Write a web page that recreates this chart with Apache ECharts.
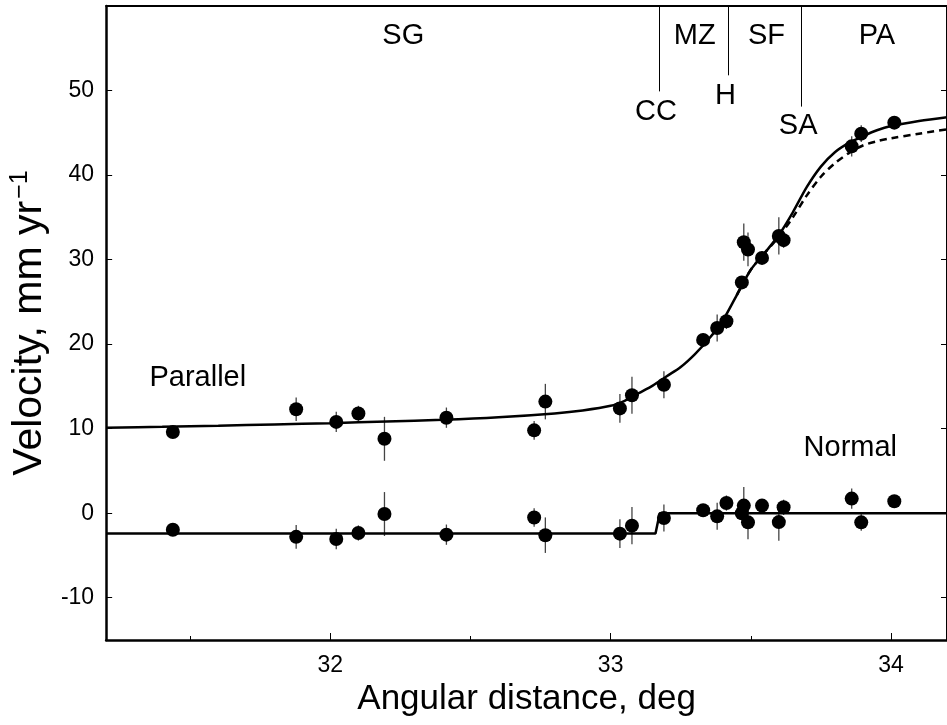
<!DOCTYPE html>
<html>
<head>
<meta charset="utf-8">
<script src="https://cdn.jsdelivr.net/npm/echarts@6/dist/echarts.min.js"></script>
<style>
  html, body { margin: 0; padding: 0; background: #fff; }
  #chart { width: 947px; height: 725px; }
</style>
</head>
<body>
<div id="chart"></div>
<script>
// station positions (deg) and velocities (mm/yr)
const distance = [31.438, 31.878, 32.021, 32.10, 32.193, 32.414, 32.727, 32.767,
  33.033, 33.076, 33.19, 33.33, 33.38, 33.413, 33.468, 33.475, 33.49, 33.54,
  33.60, 33.617, 33.86, 33.894, 34.012];
const parallelVel = [9.6, 12.3, 10.8, 11.8, 8.8, 11.3, 9.8, 13.2,
  12.4, 13.95, 15.2, 20.5, 21.9, 22.7, 27.3, 32.06, 31.2, 30.2,
  32.8, 32.3, 43.4, 44.9, 46.2];
const normalVel = [-1.95, -2.8, -3.05, -2.34, -0.1, -2.54, -0.5, -2.6,
  -2.42, -1.47, -0.56, 0.35, -0.37, 1.2, 0.0, 0.9, -1.08, 0.9,
  -1.05, 0.7, 1.73, -1.08, 1.41];
const velErr = [0.5, 1.4, 1.2, 0.9, 2.6, 1.2, 1.1, 2.1,
  1.7, 2.2, 1.6, 0.75, 1.6, 0.9, 0.6, 2.2, 2.0, 0.75,
  2.2, 0.9, 1.2, 1.0, 0.5];

// model curves
const fitDist = [31.2, 31.4, 31.6, 31.8, 32.0, 32.2, 32.4, 32.6, 32.8, 32.9, 33.0,
  33.05, 33.1, 33.15, 33.2, 33.25, 33.3, 33.35, 33.4, 33.45, 33.5, 33.55, 33.6,
  33.65, 33.7, 33.75, 33.8, 33.85, 33.9, 33.95, 34.0, 34.1, 34.2];
const fitParallel = [10.1, 10.22, 10.35, 10.5, 10.65, 10.85, 11.05, 11.35, 11.8, 12.15, 12.7,
  13.3, 14.2, 15.1, 16.2, 17.3, 18.8, 20.6, 22.8, 25.8, 28.8, 30.8, 32.9,
  35.6, 38.6, 41.0, 42.7, 43.8, 44.6, 45.3, 45.8, 46.4, 46.85];
const dashDist = [33.45, 33.5, 33.55, 33.6, 33.65, 33.7, 33.75, 33.8, 33.85, 33.9, 33.95, 34.0, 34.1, 34.2];
const dashParallel = [25.8, 28.8, 30.8, 32.7, 35.0, 37.6, 39.8, 41.4, 42.6, 43.5, 44.0, 44.35, 44.9, 45.4];
const normalFitDist = [31.2, 33.16, 33.175, 34.2];
const normalFitVel = [-2.4, -2.4, 0, 0];

// zone boundaries: [x, bottom of line, label, label y]
const boundaries = [
  [33.172, 49.9, 'CC', 47.5],
  [33.42, 51.8, 'H', 49.3],
  [33.679, 48.1, 'SA', 45.8]
];
const zoneLabels = [[32.26, 56.5, 'SG'], [33.30, 56.5, 'MZ'], [33.556, 56.5, 'SF'], [33.95, 56.5, 'PA']];
const curveLabels = [[31.527, 16.0, 'Parallel'], [33.855, 7.66, 'Normal']];

const xMajor = [32, 33, 34];
const xMinor = [31.5, 32.5, 33.5];
const yTicks = [-10, 0, 10, 20, 30, 40, 50];

const FONT = 'Liberation Sans, Arial, Helvetica, sans-serif';

const pairs = (xs, ys) => xs.map((x, i) => [x, ys[i]]);
const errData = (ys) => distance.map((x, i) => [x, ys[i], velErr[i]]);

function errorBar(params, api) {
  const x = api.value(0), y = api.value(1), e = api.value(2);
  const a = api.coord([x, y - e]), b = api.coord([x, y + e]);
  return {
    type: 'line',
    shape: { x1: a[0], y1: a[1], x2: b[0], y2: b[1] },
    style: { stroke: '#444', lineWidth: 1.3 }
  };
}

const textSeries = (rows, size) => ({
  type: 'scatter',
  symbolSize: 0,
  silent: true,
  itemStyle: { opacity: 1 },
  data: rows.map(r => ({ value: [r[0], r[1]], name: r[2] })),
  label: { show: true, position: 'inside', formatter: '{b}', color: '#000', fontSize: size, fontFamily: FONT }
});

const chart = echarts.init(document.getElementById('chart'));
const option = {
  animation: false,
  backgroundColor: '#fff',
  grid: { left: 105, right: -3, top: 6, bottom: 85 },
  xAxis: [
    {
      type: 'value', min: 31.2, max: 34.2, position: 'bottom',
      name: 'Angular distance, deg', nameLocation: 'middle', nameGap: 42,
      nameTextStyle: { fontSize: 35, color: '#000', fontFamily: FONT },
      axisLine: { show: true, onZero: false, lineStyle: { color: '#000', width: 2.5 } },
      axisTick: { show: true, inside: true, length: 7, customValues: xMajor, lineStyle: { color: '#000', width: 1 } },
      axisLabel: { customValues: xMajor, fontSize: 23, color: '#000', fontFamily: FONT, margin: 14 },
      splitLine: { show: false }
    },
    {
      type: 'value', min: 31.2, max: 34.2, position: 'top',
      axisLine: { show: true, onZero: false, lineStyle: { color: '#000', width: 2 } },
      axisTick: { show: false }, axisLabel: { show: false }, splitLine: { show: false }
    },
    {
      type: 'value', min: 31.2, max: 34.2, position: 'bottom',
      axisLine: { show: false, onZero: false },
      axisTick: { show: true, inside: true, length: 4, customValues: xMinor, lineStyle: { color: '#000', width: 1 } },
      axisLabel: { show: false }, splitLine: { show: false }
    }
  ],
  yAxis: [
    {
      type: 'value', min: -15, max: 60, position: 'left',
      name: 'Velocity, mm yr{sup|\u22121}', nameLocation: 'middle', nameGap: 35, nameRotate: 90,
      nameTextStyle: {
        fontSize: 41, color: '#000', fontFamily: FONT,
        rich: { sup: { fontSize: 25, color: '#000', fontFamily: FONT, verticalAlign: 'top', padding: [0, 0, 18, 2] } }
      },
      axisLine: { show: true, onZero: false, lineStyle: { color: '#000', width: 2.5 } },
      axisTick: { show: true, inside: true, length: 6, customValues: yTicks, lineStyle: { color: '#000', width: 1 } },
      axisLabel: { customValues: yTicks, fontSize: 23, color: '#000', fontFamily: FONT, margin: 12 },
      splitLine: { show: false }
    },
    {
      type: 'value', min: -15, max: 60, position: 'right',
      axisLine: { show: true, onZero: false, lineStyle: { color: '#000', width: 2 } },
      axisTick: { show: true, inside: true, length: 6, customValues: yTicks, lineStyle: { color: '#000', width: 1 } },
      axisLabel: { show: false }, splitLine: { show: false }
    }
  ],
  series: [
    {
      type: 'line', data: pairs(dashDist, dashParallel), showSymbol: false, silent: true,
      smooth: 0.3,
      lineStyle: { color: '#000', width: 2.5, type: [7, 5] }
    },
    {
      type: 'line', data: pairs(fitDist, fitParallel), showSymbol: false, silent: true,
      smooth: 0.3,
      lineStyle: { color: '#000', width: 2.5 }
    },
    {
      type: 'line', data: pairs(normalFitDist, normalFitVel), showSymbol: false, silent: true,
      lineStyle: { color: '#000', width: 2.5 }
    },
    { type: 'custom', renderItem: errorBar, data: errData(parallelVel), silent: true, z: 3 },
    { type: 'custom', renderItem: errorBar, data: errData(normalVel), silent: true, z: 3 },
    {
      type: 'scatter', data: pairs(distance, parallelVel), symbol: 'circle', symbolSize: 14,
      itemStyle: { color: '#000', opacity: 1 }, z: 4
    },
    {
      type: 'scatter', data: pairs(distance, normalVel), symbol: 'circle', symbolSize: 14,
      itemStyle: { color: '#000', opacity: 1 }, z: 4
    },
    Object.assign(textSeries(zoneLabels, 29), {
      markLine: {
        silent: true, symbol: 'none', animation: false,
        label: { show: false },
        lineStyle: { color: '#000', width: 1, type: 'solid', opacity: 1 },
        data: boundaries.map(b => [{ coord: [b[0], 60] }, { coord: [b[0], b[1]] }])
      }
    }),
    textSeries(boundaries.map(b => [b[0] - 0.01, b[3], b[2]]), 29),
    textSeries(curveLabels, 29)
  ]
};
chart.setOption(option);
window.onresize = chart.resize;
</script>
</body>
</html>
